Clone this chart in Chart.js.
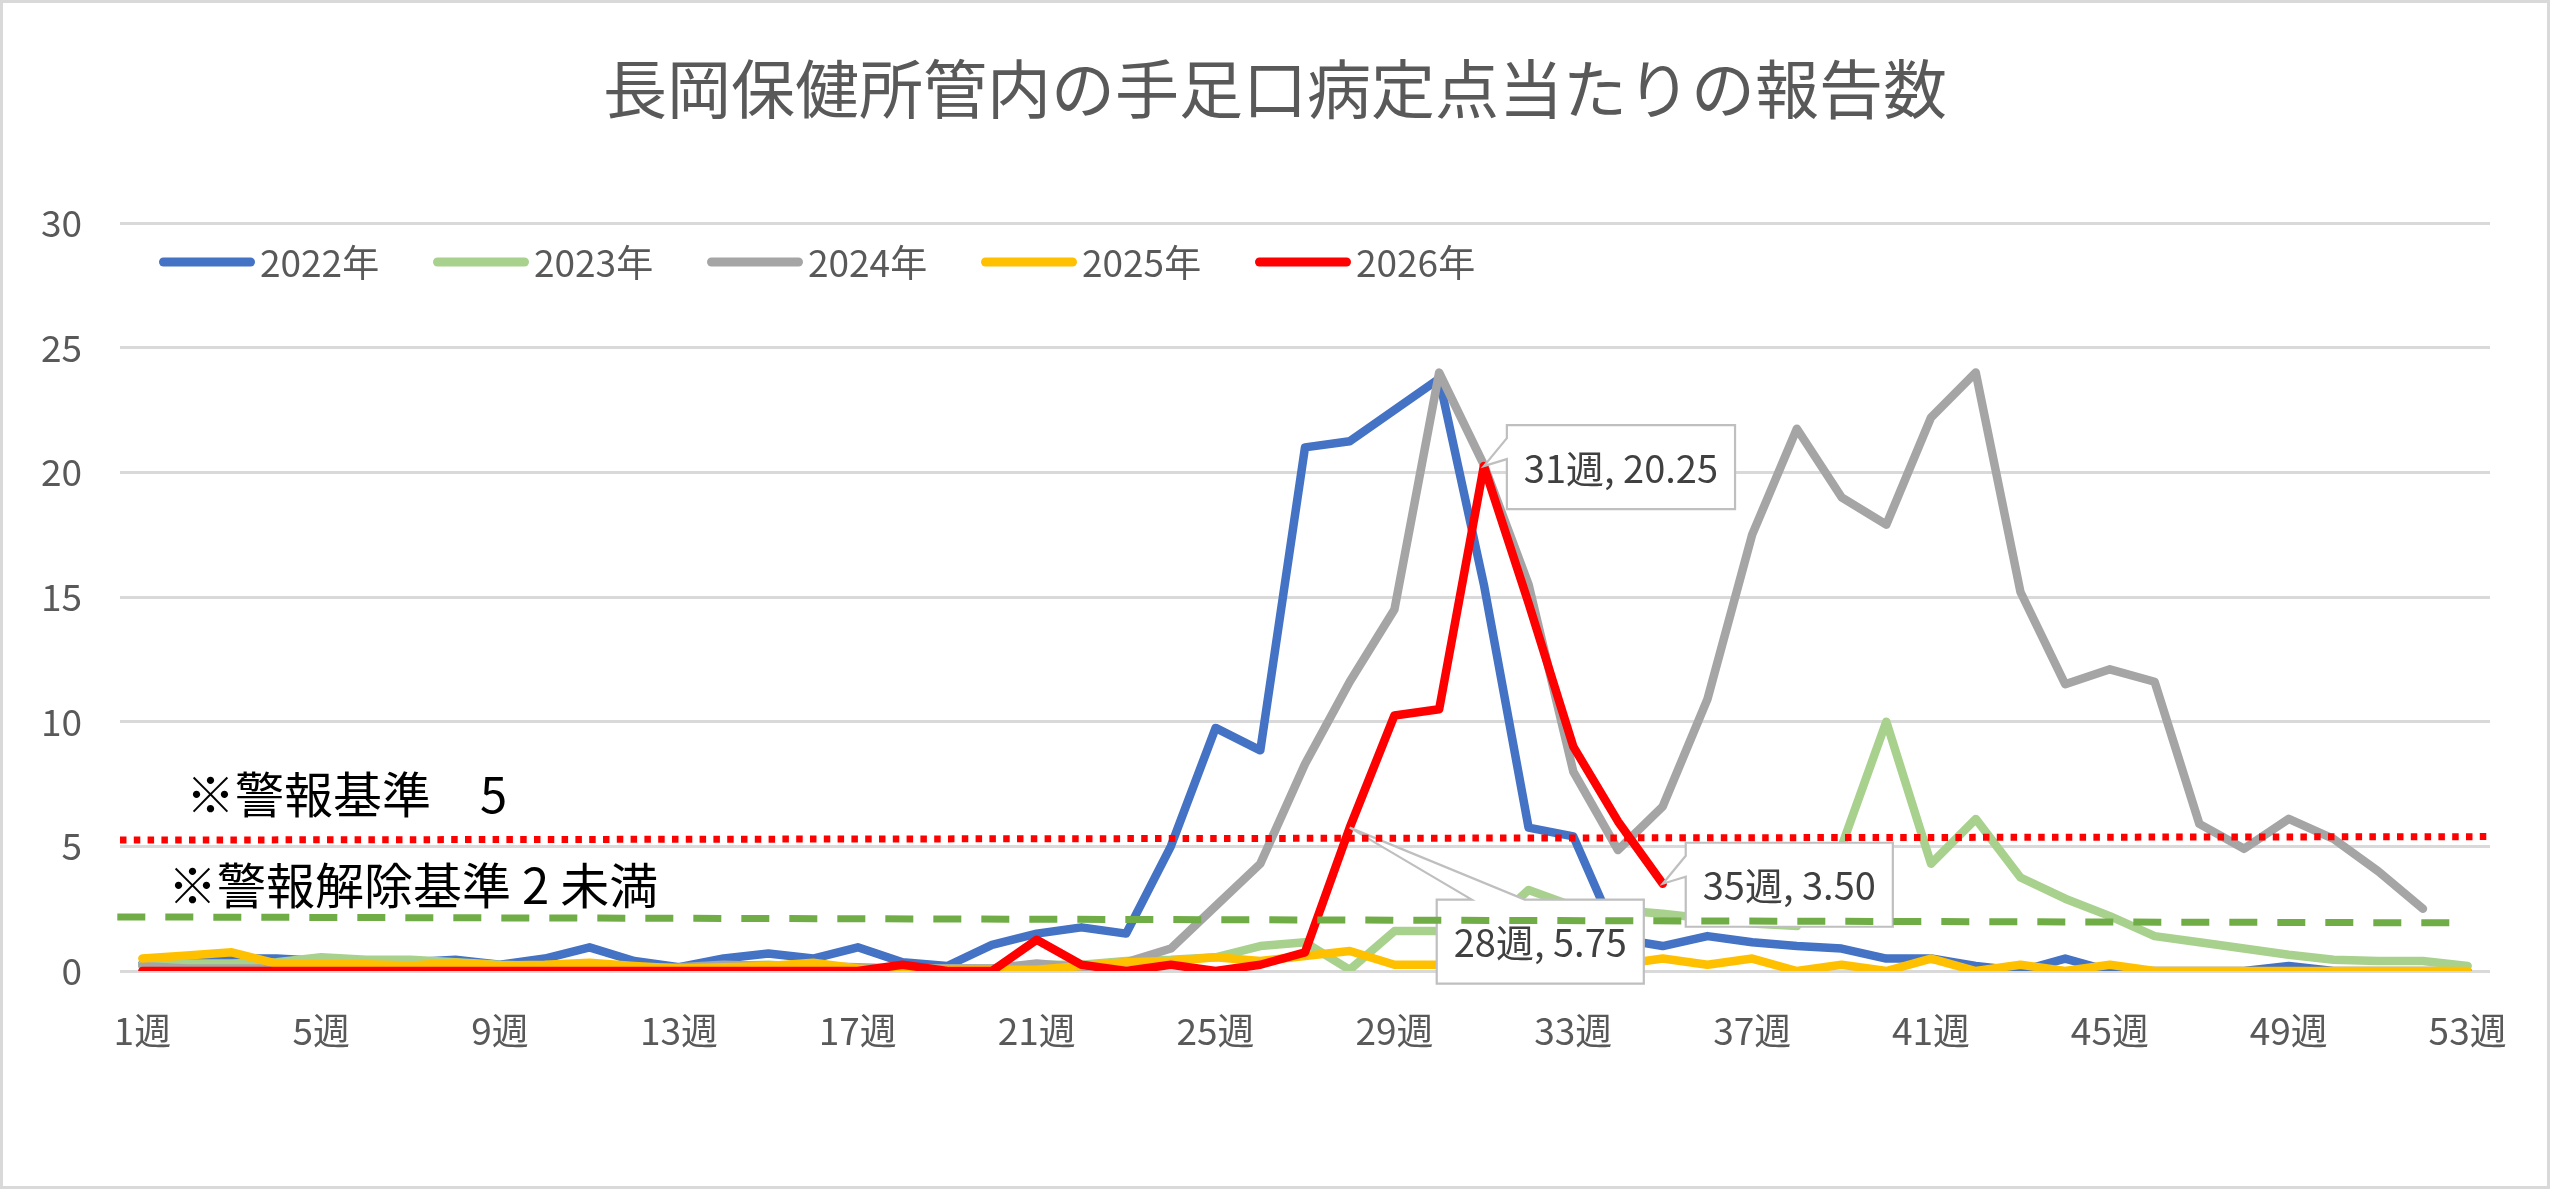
<!DOCTYPE html>
<html>
<head>
<meta charset="utf-8">
<script src="https://cdn.jsdelivr.net/npm/chart.js@4.4.1/dist/chart.umd.min.js"></script>
<style>
html,body{margin:0;padding:0;background:#fff;}
#wrap{width:2550px;height:1189px;position:relative;}
canvas{display:block;}
</style>
</head>
<body>
<div id="wrap"><canvas id="c"></canvas></div>
<script>
// ---- data ----
const chartTitle = '長岡保健所管内の手足口病定点当たりの報告数';
const weeks = [1,2,3,4,5,6,7,8,9,10,11,12,13,14,15,16,17,18,19,20,21,22,23,24,25,26,27,28,29,30,31,32,33,34,35,36,37,38,39,40,41,42,43,44,45,46,47,48,49,50,51,52,53];
const tickWeeks = [1,5,9,13,17,21,25,29,33,37,41,45,49,53];
const weekSuffix = '週';
const seriesNames = ['2022年','2023年','2024年','2025年','2026年'];

const v2022 = [0.3,0.3,0.5,0.5,0.4,0.35,0.35,0.45,0.25,0.5,
  0.95,0.4,0.15,0.5,0.7,0.5,0.95,0.35,0.2,1.05,
  1.5,1.75,1.5,5.0,9.75,8.85,21.0,21.25,22.5,23.75,
  15.5,5.75,5.4,1.3,1.0,1.4,1.15,1.0,0.9,0.5,
  0.5,0.2,0,0.5,0,0,0,0,0.2,0,
  0,0,0];
const v2023 = [0.25,0.3,0.3,0.35,0.55,0.45,0.45,0.35,0.25,0.2,
  0.2,0.15,0.1,0.2,0.25,0.15,0.1,0.1,0.1,0.1,
  0.25,0.25,0.4,0.45,0.55,1.0,1.15,0.05,1.6,1.6,
  1.6,3.25,2.6,2.45,2.3,2.1,1.9,1.8,5.0,10.0,
  4.3,6.1,3.75,2.9,2.2,1.4,1.15,0.9,0.65,0.45,
  0.4,0.4,0.2];
const v2024 = [0.2,0.1,0.1,0.1,0.1,0.1,0.1,0.1,0.1,0.1,
  0.1,0.1,0.15,0.25,0.2,0.2,0.15,0.1,0.1,0.1,
  0.3,0.15,0.35,0.9,2.6,4.3,8.3,11.6,14.5,24.0,
  20.3,15.5,8.0,4.85,6.6,10.9,17.5,21.75,19.0,17.9,
  22.2,24.0,15.2,11.5,12.1,11.6,5.9,4.9,6.1,5.3,
  4.0,2.5,null];
const v2025 = [0.5,0.62,0.75,0.3,0.3,0.27,0.22,0.33,0.22,0.25,
  0.33,0.2,0.1,0.15,0.2,0.33,0.1,0,0.05,0.05,
  0.05,0.2,0.35,0.4,0.55,0.4,0.6,0.8,0.25,0.25,
  0.25,0.25,0.5,0.25,0.5,0.25,0.5,0,0.25,0,
  0.5,0,0.25,0,0.25,0,0,0,0,0,
  0,0,0];
const v2026 = [0,0,0,0,0,0,0,0,0,0,
  0,0,0,0,0,0,0,0.25,0,0,
  1.25,0.25,0,0.25,0,0.25,0.75,5.75,10.25,10.5,
  20.25,14.75,9.0,6.0,3.5];

const yTicksMin = 0, yTicksMax = 30, yTicksStep = 5;

// alert lines (drawn lines)
const alertLineWeeks = [0.5, 53.5];
const alertLineValues = [5.25, 5.39];
const releaseLineWeeks = [0.44, 52.7];
const releaseLineValues = [2.17, 1.93];
const alertText = '※警報基準　5';
const releaseText = '※警報解除基準 2 未満';

// data callouts on the 2026 series
const calloutWeeks = [31, 28, 35];

// ---- styles ----
const colors = ['#4472C4','#A9D18E','#A5A5A5','#FFC000','#FF0000'];
const FONT = "'Noto Sans CJK JP','Noto Sans',sans-serif";
Chart.defaults.font.family = FONT;

const toPoints = arr => arr.map((v,i)=> (v===null||v===undefined) ? null : {x: weeks[i], y: v}).filter(p=>p);
const seriesValues = [v2022, v2023, v2024, v2025, v2026];

const datasets = seriesValues.map((vals, i) => ({
  label: seriesNames[i],
  data: toPoints(vals),
  borderColor: colors[i],
  backgroundColor: colors[i],
  borderWidth: 8.5,
  pointRadius: 0,
  pointHoverRadius: 0,
  tension: 0,
  fill: false,
  borderJoinStyle: 'round',
  borderCapStyle: 'round',
  order: 5 - i
}));
datasets.push({
  label: 'alert',
  data: alertLineWeeks.map((w,i)=>({x:w, y:alertLineValues[i]})),
  borderColor: '#FF0000', borderWidth: 7, borderDash: [6.5, 7.3], borderCapStyle: 'butt',
  pointRadius: 0, fill: false, clip: false, order: -1
});
datasets.push({
  label: 'release',
  data: releaseLineWeeks.map((w,i)=>({x:w, y:releaseLineValues[i]})),
  borderColor: '#70AD47', borderWidth: 7, borderDash: [28, 20], borderCapStyle: 'butt',
  pointRadius: 0, fill: false, clip: false, order: -2
});

function drawCallout(ctx, chart, week, value, kind) {
  const xs = chart.scales.x, ys = chart.scales.y;
  const ax = xs.getPixelForValue(week), ay = ys.getPixelForValue(value);
  const text = week + weekSuffix + ', ' + value.toFixed(2);
  let L, T, W, H;
  ctx.save();
  ctx.beginPath();
  ctx.font = '38px ' + FONT;
  W = ctx.measureText(text).width + 34;
  H = 84;
  if (kind === 'left') {
    L = ax + 23; T = ay - 41;
    ctx.moveTo(L, T); ctx.lineTo(L + W, T); ctx.lineTo(L + W, T + H); ctx.lineTo(L, T + H);
    ctx.lineTo(L, ay - 7); ctx.lineTo(ax, ay); ctx.lineTo(L, ay - 28); ctx.closePath();
  } else {
    L = ax + 87; T = ay + 72;
    ctx.moveTo(L, T); ctx.lineTo(L + 35, T); ctx.lineTo(ax, ay); ctx.lineTo(L + 88, T);
    ctx.lineTo(L + W, T); ctx.lineTo(L + W, T + H); ctx.lineTo(L, T + H); ctx.closePath();
  }
  ctx.fillStyle = '#ffffff';
  ctx.fill();
  ctx.lineWidth = 2.2;
  ctx.strokeStyle = '#BFBFBF';
  ctx.lineJoin = 'miter';
  ctx.stroke();
  ctx.fillStyle = '#404040';
  ctx.textAlign = 'center';
  ctx.textBaseline = 'middle';
  ctx.fillText(text, L + W / 2, T + H / 2 + 1);
  ctx.restore();
}

const decor = {
  id: 'decor',
  beforeDraw(chart) {
    const c = chart.ctx;
    c.save(); c.fillStyle = '#fff'; c.fillRect(0, 0, chart.width, chart.height); c.restore();
  },
  afterDatasetDraw(chart, args) {
    if (args.index === 4) {
      const c = chart.ctx;
      calloutWeeks.forEach(w => {
        const v = v2026[weeks.indexOf(w)];
        drawCallout(c, chart, w, v, w === 28 ? 'top' : 'left');
      });
    }
  },
  afterDraw(chart) {
    const c = chart.ctx;
    const ca = chart.chartArea;
    const ys = chart.scales.y;
    // legend
    c.save();
    c.font = '37px ' + FONT;
    c.textBaseline = 'middle';
    c.textAlign = 'left';
    seriesNames.forEach((name, i) => {
      const x0 = ca.left + 39 + i * 274;
      const y0 = 262;
      c.beginPath();
      c.lineCap = 'round';
      c.lineWidth = 9;
      c.strokeStyle = colors[i];
      c.moveTo(x0 + 4.5, y0); c.lineTo(x0 + 91.5, y0);
      c.stroke();
      c.fillStyle = '#595959';
      c.fillText(name, x0 + 101, y0 + 1);
    });
    // annotations
    c.font = '49px ' + FONT;
    c.fillStyle = '#000000';
    c.fillText(alertText, ca.left + 66, ys.getPixelForValue(5) - 52);
    c.fillText(releaseText, ca.left + 48, ys.getPixelForValue(2) - 36);
    // outer border
    c.lineWidth = 3;
    c.strokeStyle = '#D9D9D9';
    c.strokeRect(1.5, 1.5, chart.width - 3, chart.height - 3);
    c.restore();
  }
};

new Chart(document.getElementById('c'), {
  type: 'line',
  data: { datasets },
  plugins: [decor],
  options: {
    responsive: true,
    maintainAspectRatio: false,
    animation: false,
    devicePixelRatio: 1,
    layout: { padding: { left: 0, right: 0, top: 0, bottom: 0 } },
    plugins: {
      legend: { display: false },
      tooltip: { enabled: false },
      title: {
        display: true,
        text: chartTitle,
        color: '#595959',
        font: { size: 64, weight: 'normal', family: FONT },
        padding: { top: 50, bottom: 96.2 }
      }
    },
    scales: {
      x: {
        type: 'linear',
        min: 0.5,
        max: 53.5,
        afterBuildTicks: s => { s.ticks = tickWeeks.map(v => ({ value: v })); },
        afterFit: s => { s.height = 218; },
        grid: { display: false, drawTicks: false },
        border: { display: false },
        ticks: {
          autoSkip: false, maxRotation: 0, padding: 38,
          color: '#595959', font: { size: 37, family: FONT },
          callback: v => v + weekSuffix
        }
      },
      y: {
        min: yTicksMin,
        max: yTicksMax,
        afterFit: s => { s.width = 120; },
        grid: { color: '#D9D9D9', lineWidth: 3, drawTicks: false },
        border: { display: false },
        ticks: {
          stepSize: yTicksStep, padding: 38,
          color: '#595959', font: { size: 37, family: FONT }
        }
      },
      yRight: {
        position: 'right',
        min: yTicksMin,
        max: yTicksMax,
        afterFit: s => { s.width = 60; },
        grid: { display: false, drawTicks: false },
        border: { display: false },
        ticks: { display: false }
      }
    }
  }
});
</script>
</body>
</html>
